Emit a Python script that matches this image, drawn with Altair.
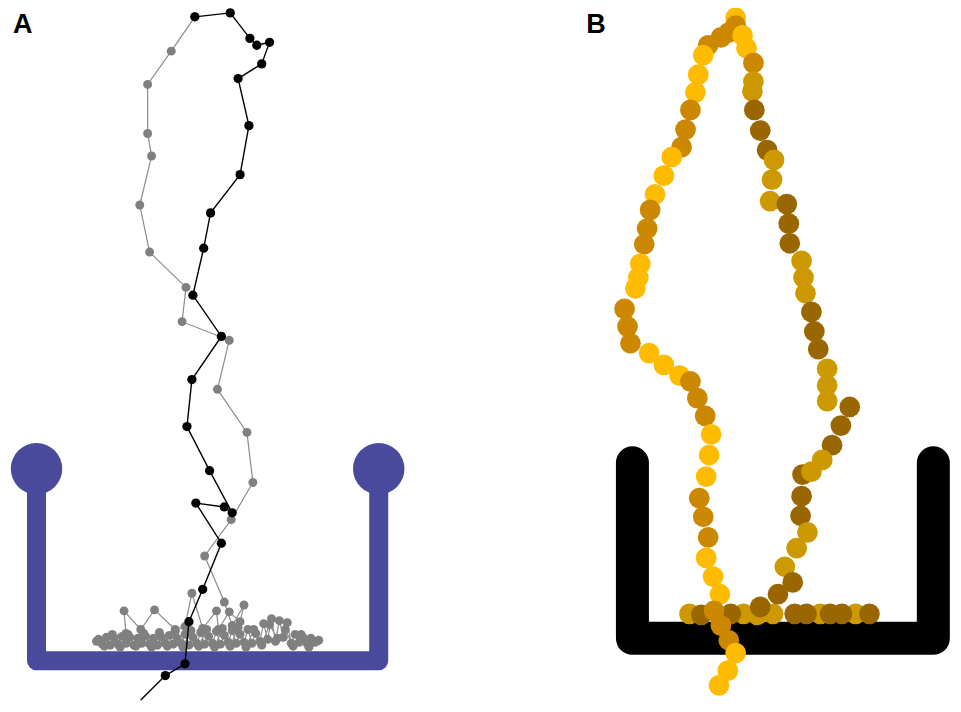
import altair as alt
import pandas as pd

# ---------------- data (picture coordinates) ----------------
# Panel A: blue U frame
ua_x = [29, 29, 377, 377]
ua_y = [472, 668, 668, 472]
knob_x = [29, 377]
knob_y = [472, 472]

# Panel B: black U frame
ub_x = [635, 635, 941, 941]
ub_y = [466, 645, 645, 466]

# Panel A: black trajectory (bottom -> top)
black_x = [135, 160, 180, 184, 198, 217, 191, 220, 228, 205, 182, 187, 217, 188,
           199, 206, 236, 245, 234, 258, 266, 253, 246, 226, 190]
black_y = [708, 683, 671, 628, 595, 548, 507, 511, 517, 474, 429, 381, 337, 295,
           247, 211, 172, 122, 74, 59, 37, 40, 33, 7, 11]

# Panel A: grey trajectory (continues from top, ends in the floor cluster)
grey_x = [190, 166, 142, 142, 146, 134, 144, 181, 177, 225, 213, 243, 249, 227, 200, 220,
          228, 240, 236, 225, 214, 212, 198, 187, 180, 170, 149, 135, 118, 120,
          92, 96, 100, 104, 108, 112, 116, 120, 124, 128, 132, 136, 140, 144, 148, 152,
          156, 160, 164, 168, 172, 176, 180, 184, 188, 192, 196, 200, 204, 208, 212, 216,
          220, 224, 228, 232, 236, 240, 244, 248, 252, 256, 260, 264, 268, 272, 276, 280,
          284, 288, 292, 296, 300, 304, 308, 312, 316,
          314, 306, 298, 290, 282, 274, 266, 258, 250, 242, 234, 226, 218, 210, 202, 194,
          186, 178, 170, 162, 154, 146, 138, 130, 122, 114, 106, 98, 90]
grey_y = [11, 46, 80, 130, 153, 203, 251, 287, 322, 341, 391, 435, 486, 524, 561, 608,
          632, 611, 628, 618, 636, 617, 635, 599, 633, 636, 616, 636, 617, 640,
          646, 651, 644, 652, 645, 651, 643, 650, 644, 652, 645, 650, 643, 651, 645, 652,
          644, 650, 642, 651, 645, 650, 641, 652, 644, 650, 639, 651, 643, 650, 638, 651,
          642, 649, 637, 650, 641, 649, 636, 650, 640, 648, 630, 646, 625, 648, 627, 644,
          629, 650, 641, 649, 644, 650, 645, 649, 647,
          648, 654, 641, 653, 636, 645, 631, 652, 636, 654, 634, 653, 635, 654, 636, 653,
          637, 654, 638, 653, 639, 654, 640, 653, 641, 654, 641, 653, 648]

# Panel B: points (Y bright gold, D dark gold, M medium gold, R brown)
band_x = [693, 748, 762, 778, 826, 862, 705, 735, 800, 812, 836, 848, 876]
band_y = [620, 620, 621, 620, 620, 620, 621, 620, 620, 620, 620, 620, 620]
band_c = ["M", "M", "M", "M", "M", "M", "R", "R", "R", "R", "R", "R", "R"]

left_x = [740, 740, 733, 725, 712, 707, 702, 699, 694, 689, 685, 675, 667, 658, 653, 650,
          647, 643, 641, 638, 627, 630, 633, 652, 667, 683, 694, 701, 709, 715, 713, 710,
          703, 707, 712, 710, 717, 724, 718, 725, 733, 740, 732, 723]
left_y = [12, 20, 27, 32, 40, 50, 70, 88, 106, 126, 144, 154, 173, 192, 208, 227,
          243, 263, 277, 288, 309, 327, 344, 354, 366, 377, 383, 400, 418, 437, 458, 480,
          502, 521, 542, 563, 582, 600, 617, 632, 647, 660, 678, 693]
left_c = ["Y", "D", "D", "D", "D", "Y", "Y", "Y", "D", "D", "D", "Y", "Y", "Y", "D", "D",
          "D", "Y", "Y", "Y", "D", "D", "D", "Y", "Y", "Y", "D", "D", "D", "Y", "Y", "Y",
          "D", "D", "D", "Y", "Y", "Y", "D", "D", "D", "Y", "Y", "Y"]

right_x = [747, 751, 758, 758, 757, 759, 765, 772, 779, 777, 775, 792, 794, 795, 807, 809,
           811, 817, 820, 824, 833, 833, 833, 856, 847, 838, 828, 808, 817, 807, 806, 813,
           802, 790, 798, 783, 765]
right_y = [30, 43, 58, 77, 87, 106, 127, 147, 157, 177, 199, 202, 222, 242, 260, 277,
           293, 312, 332, 350, 370, 387, 403, 409, 428, 448, 463, 478, 475, 500, 520, 537,
           553, 572, 588, 600, 613]
right_c = ["Y", "Y", "D", "M", "M", "R", "R", "R", "M", "M", "M", "R", "R", "R", "M", "M",
           "M", "R", "R", "R", "M", "M", "M", "R", "R", "R", "M", "R", "M", "R", "R", "M",
           "M", "M", "R", "R", "R"]

label_text = ["A", "B"]
label_x = [5, 588]
label_y = [28, 28]

color_domain = ["Y", "D", "M", "R"]
color_range = ["#FFBB00", "#CC8800", "#CC9900", "#996600"]

# ---------------- chart ----------------
W, H = 945, 696
XS = alt.Scale(domain=[0, 961], nice=False, zero=False)
YS = alt.Scale(domain=[2, 712], nice=False, zero=False, reverse=True)


def X(f="x"):
    return alt.X(f"{f}:Q", scale=XS, axis=None)


def Y(f="y"):
    return alt.Y(f"{f}:Q", scale=YS, axis=None)


ua = pd.DataFrame({"x": ua_x, "y": ua_y, "i": range(len(ua_x))})
knobs = pd.DataFrame({"x": knob_x, "y": knob_y})
ub = pd.DataFrame({"x": ub_x, "y": ub_y, "i": range(len(ub_x))})
blk = pd.DataFrame({"x": black_x, "y": black_y, "i": range(len(black_x))})
gry = pd.DataFrame({"x": grey_x, "y": grey_y, "i": range(len(grey_x))})
bpts = pd.DataFrame({
    "x": band_x + left_x + right_x,
    "y": band_y + left_y + right_y,
    "c": band_c + left_c + right_c,
})
bpts["i"] = range(len(bpts))
labels = pd.DataFrame({"t": label_text, "x": label_x, "y": label_y})

blue = "#4a4a9c"

l_ua = alt.Chart(ua).mark_line(color=blue, strokeWidth=19, strokeJoin="round",
                               strokeCap="butt").encode(x=X(), y=Y(), order="i:Q")
l_knob = alt.Chart(knobs).mark_point(shape="circle", filled=True, color=blue, opacity=1,
                                     size=2650).encode(x=X(), y=Y())
l_ub = alt.Chart(ub).mark_line(color="black", strokeWidth=33, strokeJoin="round",
                               strokeCap="round").encode(x=X(), y=Y(), order="i:Q")
l_gline = alt.Chart(gry).mark_line(color="#8c8c8c", strokeWidth=1.2).encode(
    x=X(), y=Y(), order="i:Q")
l_gpts = alt.Chart(gry).mark_circle(color="#808080", opacity=1, size=80).encode(x=X(), y=Y())
l_bline = alt.Chart(blk).mark_line(color="black", strokeWidth=1.4).encode(
    x=X(), y=Y(), order="i:Q")
l_bpts = alt.Chart(blk).transform_filter("datum.i > 0").mark_circle(
    color="black", opacity=1, size=86).encode(x=X(), y=Y())
l_B = alt.Chart(bpts).mark_circle(opacity=1, size=430).encode(
    x=X(), y=Y(),
    color=alt.Color("c:N", scale=alt.Scale(domain=color_domain, range=color_range), legend=None),
    order="i:Q",
)
l_lab = alt.Chart(labels).mark_text(font="Liberation Sans", fontWeight="bold", fontSize=27,
                                     align="left", baseline="alphabetic", color="black").encode(
    x=X(), y=Y(), text="t:N")

chart = alt.layer(l_ua, l_knob, l_ub, l_gline, l_gpts, l_bline, l_bpts, l_B, l_lab).properties(
    width=W, height=H, padding=0, autosize=alt.AutoSizeParams(type="none")
).configure_view(stroke=None)

chart.save("out.html", embed_options={"renderer": "svg", "actions": False})
